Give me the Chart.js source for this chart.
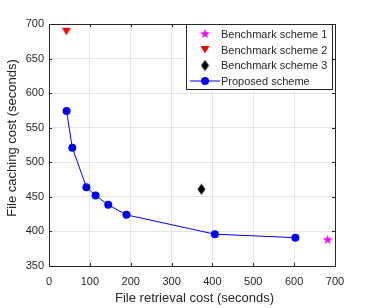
<!DOCTYPE html>
<html><head><meta charset="utf-8">
<script src="https://cdn.jsdelivr.net/npm/chart.js@4/dist/chart.umd.min.js"></script>
<style>html,body{margin:0;padding:0;background:#fff;}#wrap{width:371px;height:308px;position:relative;}</style>
</head><body><div id="wrap"><canvas id="c" width="371" height="308"></canvas></div>
<script>
const xTitle = 'File retrieval cost (seconds)';
const yTitle = 'File caching cost (seconds)';
const seriesLabels = ['Benchmark scheme 1','Benchmark scheme 2','Benchmark scheme 3','Proposed scheme'];
const bench1X = [682];   const bench1Y = [388.5];
const bench2X = [42.5];  const bench2Y = [689.5];
const bench3X = [373];   const bench3Y = [461];
const propX = [43, 57, 91.5, 114, 145, 189.5, 406, 603];
const propY = [574, 521, 464, 452, 438.5, 424, 396, 391];
const xTicks = [0,100,200,300,400,500,600,700];
const yTicks = [350,400,450,500,550,600,650,700];

function pts(xs, ys){ return xs.map((x,i)=>({x:x,y:ys[i]})); }

function mkCanvas(w,h,draw){ const c=document.createElement('canvas'); c.width=w; c.height=h; draw(c.getContext('2d'),w,h); return c; }
const starImg = mkCanvas(11,11,(g,w,h)=>{
  g.fillStyle='#ff00ff'; g.beginPath();
  const cx=w/2, cy=h/2+0.5, R=5.2, r=2.1;
  for(let i=0;i<10;i++){ const a=-Math.PI/2+i*Math.PI/5; const rr=i%2?r:R; const px=cx+rr*Math.cos(a), py=cy+rr*Math.sin(a); i?g.lineTo(px,py):g.moveTo(px,py);} g.closePath(); g.fill();
});
const triImg = mkCanvas(10,9,(g,w,h)=>{
  g.fillStyle='#ff0000'; g.beginPath(); g.moveTo(0.5,1); g.lineTo(9.5,1); g.lineTo(5,8.5); g.closePath(); g.fill();
});
const diaImg = mkCanvas(9,12,(g,w,h)=>{
  g.fillStyle='#000000'; g.beginPath(); g.moveTo(4.5,0.5); g.lineTo(8.5,6); g.lineTo(4.5,11.5); g.lineTo(0.5,6); g.closePath(); g.fill();
});

const FONT = "'Liberation Sans', Arial, Helvetica, sans-serif";
const TXT = '#262626';

const frame = {
  id:'frame',
  beforeDatasetsDraw(chart){
    const {ctx, chartArea:a, scales:{x,y}} = chart;
    ctx.save();
    ctx.strokeStyle='#262626'; ctx.lineWidth=1;
    ctx.beginPath();
    xTicks.forEach(v=>{ const px=Math.round(x.getPixelForValue(v))+0.5; ctx.moveTo(px,a.bottom); ctx.lineTo(px,a.bottom-3); ctx.moveTo(px,a.top); ctx.lineTo(px,a.top+3); });
    yTicks.forEach(v=>{ const py=Math.round(y.getPixelForValue(v))+0.5; ctx.moveTo(a.left,py); ctx.lineTo(a.left+3,py); ctx.moveTo(a.right,py); ctx.lineTo(a.right-3,py); });
    ctx.stroke();
    ctx.strokeRect(Math.round(a.left)+0.5, Math.round(a.top)+0.5, Math.round(a.right-a.left), Math.round(a.bottom-a.top));
    // axis titles
    ctx.fillStyle=TXT; ctx.font='13px '+FONT; ctx.textAlign='center'; ctx.textBaseline='middle';
    ctx.fillText(xTitle, (a.left+a.right)/2+2.5, a.bottom+32);
    ctx.save(); ctx.translate(12, (a.top+a.bottom)/2-7); ctx.rotate(-Math.PI/2); ctx.fillText(yTitle,0,0); ctx.restore();
    ctx.restore();
  },
  afterDraw(chart){
    const {ctx} = chart;
    ctx.save();
    const L=186, T=24, R=333, B=90;
    ctx.fillStyle='#fff'; ctx.fillRect(L,T,R-L,B-T);
    ctx.strokeStyle='#262626'; ctx.lineWidth=1; ctx.strokeRect(L+0.5,T+0.5,R-L-1,B-T-1);
    const rows=[34,50,65.5,81];
    const mx=205, tx=221;
    ctx.drawImage(starImg, mx-5.5, rows[0]-6);
    ctx.drawImage(triImg, mx-5, rows[1]-5);
    ctx.drawImage(diaImg, mx-4.5, rows[2]-6);
    ctx.strokeStyle='#0000ff'; ctx.beginPath(); ctx.moveTo(190,rows[3]); ctx.lineTo(220,rows[3]); ctx.stroke();
    ctx.fillStyle='#0000ff'; ctx.beginPath(); ctx.arc(mx,rows[3],4,0,Math.PI*2); ctx.fill();
    ctx.fillStyle=TXT; ctx.font='11px '+FONT; ctx.textBaseline='middle'; ctx.textAlign='left';
    seriesLabels.forEach((s,i)=>ctx.fillText(s,tx,rows[i]+0.5));
    ctx.restore();
  }
};

new Chart(document.getElementById('c'), {
  type:'scatter',
  data:{ datasets:[
    {label:seriesLabels[0], data:pts(bench1X,bench1Y), pointStyle:starImg, backgroundColor:'#ff00ff', borderColor:'#ff00ff'},
    {label:seriesLabels[1], data:pts(bench2X,bench2Y), pointStyle:triImg, backgroundColor:'#ff0000', borderColor:'#ff0000'},
    {label:seriesLabels[2], data:pts(bench3X,bench3Y), pointStyle:diaImg, backgroundColor:'#000', borderColor:'#000'},
    {label:seriesLabels[3], data:pts(propX,propY), showLine:true, borderColor:'#0000ff', borderWidth:1, backgroundColor:'#0000ff', pointRadius:4, pointBorderWidth:0, pointStyle:'circle'}
  ]},
  options:{
    responsive:false, animation:false, devicePixelRatio:1,
    layout:{padding:{top:24,right:36,left:0,bottom:0}},
    plugins:{legend:{display:false}, tooltip:{enabled:false}},
    scales:{
      x:{type:'linear', min:0, max:700,
        afterBuildTicks(s){ s.ticks = xTicks.map(v=>({value:v})); },
        afterFit(s){ s.height=42; },
        grid:{color:'#e5e5e5', drawTicks:false, lineWidth:1},
        border:{display:false},
        ticks:{color:TXT, font:{family:FONT,size:11}, padding:9, maxRotation:0},
        title:{display:false}
      },
      y:{type:'linear', min:350, max:700,
        afterBuildTicks(s){ s.ticks = yTicks.map(v=>({value:v})); },
        afterFit(s){ s.width=49; },
        grid:{color:'#e5e5e5', drawTicks:false, lineWidth:1},
        border:{display:false},
        ticks:{color:TXT, font:{family:FONT,size:11}, padding:5},
        title:{display:false}
      }
    }
  },
  plugins:[frame]
});
</script></body></html>
